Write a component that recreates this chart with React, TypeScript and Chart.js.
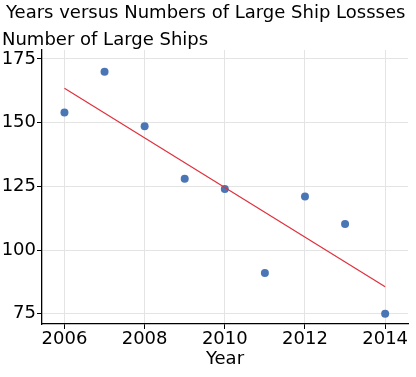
import React, { useEffect, useRef } from "react";
import { Chart, registerables } from "chart.js";

Chart.register(...registerables);

const years = [2006, 2007, 2008, 2009, 2010, 2011, 2012, 2013, 2014];
const losses = [154, 170, 148.6, 128, 124, 91, 121, 110.2, 75];
const trendYears = [2006, 2014];
const trendValues = [163.5, 85.6];
const xTicks = [2006, 2008, 2010, 2012, 2014];
const yTicks = [75, 100, 125, 150, 175];

const TITLE = "Years versus Numbers of Large Ship Lossses";
const Y_TITLE = "Number of Large Ships";
const X_TITLE = "Year";
const FONT = "'DejaVu Sans', Verdana, sans-serif";

const textPlugin = {
  id: "texts",
  afterDraw(chart: any) {
    const ctx = chart.ctx;
    const area = chart.chartArea;
    ctx.save();
    ctx.fillStyle = "#000";
    ctx.font = `18px ${FONT}`;
    ctx.textAlign = "left";
    ctx.textBaseline = "alphabetic";
    ctx.fillText(TITLE, 6, 18);
    ctx.fillText(Y_TITLE, 2, 45);
    ctx.textAlign = "center";
    ctx.fillText(X_TITLE, (area.left + area.right) / 2, 364);
    ctx.restore();
  },
};

export default function App() {
  const ref = useRef<HTMLCanvasElement>(null);
  useEffect(() => {
    document.body.style.margin = "0";
    const chart = new Chart(ref.current!, {
      type: "scatter",
      data: {
        datasets: [
          {
            type: "line",
            data: trendYears.map((x, i) => ({ x, y: trendValues[i] })),
            borderColor: "#e0303c",
            borderWidth: 1.2,
            pointRadius: 0,
            fill: false,
          } as any,
          {
            data: years.map((x, i) => ({ x, y: losses[i] })),
            backgroundColor: "#4a76b5",
            borderColor: "#4a76b5",
            pointRadius: 4,
            borderWidth: 0,
          },
        ],
      },
      options: {
        responsive: false,
        animation: false,
        layout: { padding: { left: 0, right: 8, top: 50, bottom: 0 } },
        plugins: { legend: { display: false }, tooltip: { enabled: false }, title: { display: false } },
        scales: {
          x: {
            type: "linear",
            min: 2005.44,
            max: 2014.57,
            afterBuildTicks: (s: any) => {
              s.ticks = xTicks.map((v) => ({ value: v }));
            },
            afterFit: (s: any) => {
              s.height = 53;
            },
            ticks: {
              font: { family: FONT, size: 18 },
              color: "#000",
              padding: 0,
              maxRotation: 0,
              callback: (v: any) => String(v),
            },
            grid: { color: "#e4e4e4", tickColor: "#000", tickLength: 5 },
            border: { color: "#000", width: 1.3 },
          },
          y: {
            type: "linear",
            min: 71,
            max: 178.5,
            afterBuildTicks: (s: any) => {
              s.ticks = yTicks.map((v) => ({ value: v }));
            },
            afterFit: (s: any) => {
              s.width = 42;
            },
            ticks: {
              font: { family: FONT, size: 18 },
              color: "#000",
              padding: 1,
            },
            grid: { color: "#e4e4e4", tickColor: "#000", tickLength: 5 },
            border: { color: "#000", width: 1.3 },
          },
        },
      },
      plugins: [textPlugin],
    });
    return () => chart.destroy();
  }, []);
  return <canvas ref={ref} width={416} height={377} style={{ display: "block" }} />;
}
